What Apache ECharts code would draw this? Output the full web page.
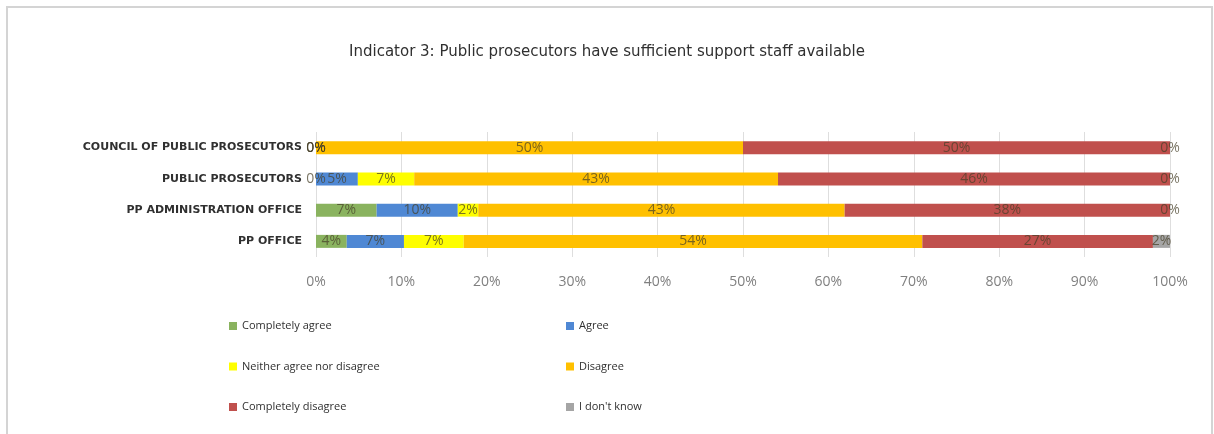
<!DOCTYPE html>
<html>
<head>
<meta charset="utf-8">
<title>Indicator 3</title>
<script src="https://cdn.jsdelivr.net/npm/echarts@6/dist/echarts.min.js"></script>
<style>
  html, body { margin: 0; padding: 0; background: #ffffff; }
  #chart { width: 1214px; height: 434px; }
</style>
</head>
<body>
<div id="chart"></div>
<script>
// Respondent groups, listed bottom-to-top as the category axis draws them
const categories = ['PP OFFICE', 'PP ADMINISTRATION OFFICE', 'PUBLIC PROSECUTORS', 'COUNCIL OF PUBLIC PROSECUTORS'];

// Share of answers per group (percent)
const completelyAgree    = [3.6, 7.1, 0, 0];
const agree              = [6.7, 9.5, 4.9, 0];
const neither            = [7.0, 2.4, 6.6, 0];
const disagree           = [53.7, 42.9, 42.6, 50];
const completelyDisagree = [27.0, 38.1, 45.9, 50];
const dontKnow           = [2.0, 0, 0, 0];

const seriesNames = ['Completely agree', 'Agree', 'Neither agree nor disagree', 'Disagree', 'Completely disagree', "I don't know"];
const seriesData = [completelyAgree, agree, neither, disagree, completelyDisagree, dontKnow];
const seriesColors = ['#8ab35f', '#4f88d4', '#fefe00', '#ffc000', '#c0504d', '#a5a5a5'];

const xTicks = [0, 10, 20, 30, 40, 50, 60, 70, 80, 90, 100];

const FONT = '"Open Sans", "Noto Sans", sans-serif';
const WIDE_FONT = '"DejaVu Sans", "Open Sans", sans-serif';

const chart = echarts.init(document.getElementById('chart'), null, { renderer: 'canvas' });

const series = seriesNames.map((name, i) => ({
  name: name,
  type: 'bar',
  stack: 'total',
  barWidth: 13,
  data: seriesData[i],
  itemStyle: { color: seriesColors[i] },
  label: {
    show: true,
    position: 'inside',
    formatter: p => Math.round(p.value) + '%',
    color: 'rgba(70,64,40,0.72)',
    fontFamily: FONT,
    fontSize: 14
  },
  emphasis: { disabled: true }
}));

const legendText = { color: '#303030', fontFamily: FONT, fontSize: 11, lineHeight: 14 };

chart.setOption({
  animation: false,
  backgroundColor: '#ffffff',
  title: {
    text: 'Indicator 3: Public prosecutors have sufficient support staff available',
    left: 'center',
    top: 40,
    textStyle: { color: '#303030', fontFamily: WIDE_FONT, fontSize: 15, fontWeight: 'normal' }
  },
  graphic: [{
    type: 'rect',
    shape: { x: 7, y: 7, width: 1205, height: 440 },
    style: { fill: 'none', stroke: '#d4d4d4', lineWidth: 2 },
    silent: true
  }],
  legend: [
    {
      orient: 'vertical',
      left: 224,
      top: 314,
      itemWidth: 8,
      itemHeight: 8,
      itemGap: 26.5,
      icon: 'rect',
      data: [seriesNames[0], seriesNames[2], seriesNames[4]],
      textStyle: legendText
    },
    {
      orient: 'vertical',
      left: 561,
      top: 314,
      itemWidth: 8,
      itemHeight: 8,
      itemGap: 26.5,
      icon: 'rect',
      data: [seriesNames[1], seriesNames[3], seriesNames[5]],
      textStyle: legendText
    }
  ],
  grid: { left: 316, right: 44, top: 132, height: 125, containLabel: false },
  xAxis: {
    type: 'value',
    min: xTicks[0],
    max: xTicks[xTicks.length - 1],
    interval: 10,
    axisLine: { show: false },
    axisTick: { show: false },
    splitLine: { show: true, lineStyle: { color: '#dedede', width: 1 } },
    axisLabel: {
      formatter: v => v + '%',
      color: '#808080',
      fontFamily: FONT,
      fontSize: 14,
      margin: 18
    }
  },
  yAxis: {
    type: 'category',
    data: categories,
    axisLine: { show: false },
    axisTick: { show: false },
    axisLabel: {
      color: '#303030',
      fontFamily: WIDE_FONT,
      fontSize: 11,
      fontWeight: 'bold',
      margin: 14
    }
  },
  series: series
});
</script>
</body>
</html>
